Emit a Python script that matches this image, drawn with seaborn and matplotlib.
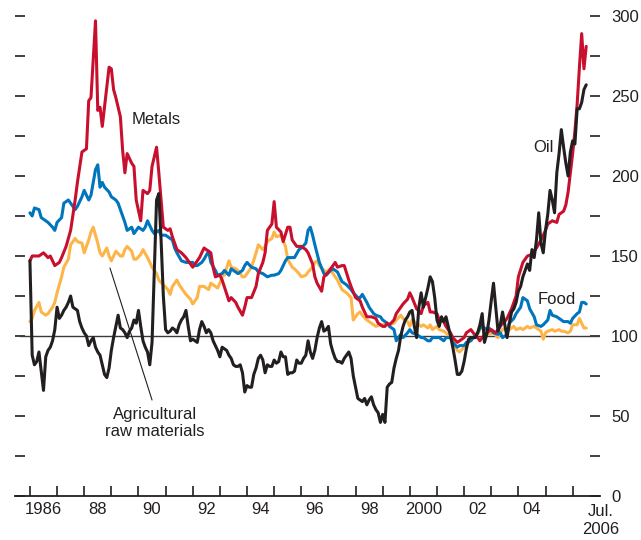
import matplotlib
matplotlib.use("Agg")
import matplotlib.pyplot as plt
import matplotlib.transforms as mtransforms
import seaborn as sns

# -----------------------
# Data (months since Jan 1986, index values)
# -----------------------

metals_m = [0, 1, 4, 6, 8, 9, 11, 13, 14, 16, 18, 20, 21, 23, 25, 26, 27, 29, 30, 31,
            32, 34, 35, 36, 37, 38, 40, 41, 42, 43, 45, 46, 47, 49, 50, 52, 53, 54, 56, 57,
            59, 61, 62, 63, 65, 67, 69, 72, 74, 75, 77, 80, 81, 82, 84, 85, 88, 89, 91, 92,
            94, 95, 96, 98, 100, 101, 103, 104, 105, 107, 108, 109, 111, 112, 114, 115, 116, 118, 120, 122,
            123, 125, 126, 127, 129, 130, 132, 134, 135, 136, 138, 139, 141, 142, 144, 146, 147, 149, 151, 153,
            154, 156, 157, 158, 159, 161, 162, 164, 165, 167, 168, 169, 171, 173, 174, 176, 177, 178, 180, 181,
            183, 184, 186, 187, 189, 190, 192, 193, 195, 196, 198, 199, 200, 202, 204, 206, 207, 209, 210, 211,
            213, 215, 216, 218, 220, 222, 224, 226, 228, 229, 231, 233, 234, 236, 237, 238, 239, 240, 241, 242,
            243, 244, 245, 246]
metals = [147, 150, 150, 152, 149, 150, 144, 146, 149, 156, 166, 185, 196, 215, 217, 247, 249, 297, 241, 243,
          231, 256, 268, 267, 254, 249, 237, 216, 202, 214, 208, 206, 185, 172, 191, 189, 191, 206, 218, 202,
          168, 166, 167, 162, 154, 152, 149, 143, 147, 149, 155, 152, 143, 137, 138, 135, 122, 124, 121, 118,
          113, 118, 124, 124, 131, 139, 146, 152, 166, 170, 184, 168, 165, 159, 168, 168, 160, 156, 156, 154,
          152, 145, 137, 133, 128, 137, 140, 144, 146, 143, 144, 144, 135, 131, 124, 122, 118, 112, 112, 111,
          108, 106, 106, 108, 107, 110, 114, 118, 120, 123, 127, 124, 117, 114, 119, 121, 115, 115, 114, 110,
          109, 106, 102, 99, 96, 97, 99, 102, 104, 102, 99, 97, 99, 102, 104, 102, 104, 108, 109, 111,
          117, 125, 137, 146, 150, 151, 155, 160, 166, 170, 172, 171, 176, 178, 182, 190, 202, 214, 228, 245,
          268, 289, 267, 281]

food_m = [0, 1, 2, 4, 5, 7, 8, 10, 11, 12, 14, 15, 17, 19, 20, 21, 23, 24, 26, 27,
          29, 30, 31, 32, 33, 35, 36, 38, 39, 41, 42, 43, 45, 46, 48, 50, 51, 52, 54, 55,
          57, 58, 60, 61, 63, 64, 65, 67, 69, 70, 72, 73, 74, 76, 77, 79, 80, 82, 83, 85,
          86, 88, 89, 91, 92, 94, 95, 96, 98, 100, 101, 103, 104, 105, 107, 108, 110, 111, 113, 114,
          116, 117, 119, 120, 122, 123, 124, 125, 126, 128, 130, 131, 133, 134, 136, 137, 138, 140, 142, 143,
          145, 146, 147, 149, 150, 152, 153, 155, 156, 158, 159, 161, 162, 164, 165, 167, 168, 169, 171, 173,
          174, 176, 177, 178, 180, 181, 183, 184, 186, 187, 189, 190, 192, 193, 195, 196, 198, 199, 200, 202,
          203, 205, 207, 208, 209, 211, 212, 214, 215, 217, 218, 220, 221, 223, 224, 226, 227, 229, 230, 231,
          233, 234, 236, 238, 239, 240, 242, 243, 244, 245, 246]
food = [177, 175, 180, 179, 174, 172, 171, 168, 166, 171, 174, 183, 185, 181, 179, 181, 187, 191, 185, 188,
        204, 207, 193, 196, 193, 190, 187, 185, 183, 175, 171, 166, 168, 164, 168, 166, 168, 172, 166, 164,
        166, 163, 163, 162, 160, 155, 152, 147, 146, 146, 146, 144, 144, 146, 148, 153, 146, 141, 138, 139,
        141, 138, 142, 140, 139, 141, 144, 146, 143, 142, 140, 139, 138, 137, 138, 138, 139, 141, 147, 149,
        149, 149, 154, 155, 158, 166, 168, 163, 157, 146, 139, 138, 141, 142, 140, 137, 134, 132, 129, 127,
        124, 124, 126, 121, 118, 114, 113, 112, 110, 108, 106, 104, 97, 101, 99, 102, 104, 102, 101, 99,
        99, 97, 97, 99, 99, 99, 97, 99, 99, 96, 93, 94, 94, 96, 97, 99, 102, 105, 106, 104,
        105, 102, 101, 102, 99, 101, 108, 111, 114, 118, 124, 122, 117, 112, 107, 106, 107, 110, 116, 113,
        112, 111, 109, 109, 108, 111, 114, 115, 121, 121, 120]

agri_m = [0, 1, 2, 4, 5, 7, 8, 10, 11, 12, 14, 15, 17, 18, 20, 21, 23, 24, 25, 26,
          27, 28, 30, 31, 32, 34, 35, 36, 37, 38, 40, 41, 42, 43, 45, 46, 47, 49, 50, 52,
          53, 54, 56, 57, 59, 61, 62, 63, 65, 66, 68, 69, 71, 72, 74, 75, 77, 79, 80, 82,
          83, 84, 85, 86, 88, 89, 91, 92, 94, 95, 96, 98, 100, 101, 103, 104, 105, 107, 108, 109,
          111, 113, 114, 116, 117, 119, 120, 122, 123, 125, 126, 127, 128, 130, 131, 133, 134, 136, 137, 138,
          140, 142, 143, 145, 146, 147, 149, 150, 152, 153, 155, 156, 158, 159, 161, 162, 164, 165, 167, 168,
          169, 171, 173, 174, 176, 177, 178, 180, 181, 183, 184, 186, 187, 189, 190, 192, 193, 195, 196, 198,
          199, 200, 202, 203, 205, 207, 208, 209, 211, 212, 214, 215, 217, 218, 220, 221, 223, 224, 226, 227,
          228, 229, 231, 232, 234, 235, 236, 238, 239, 240, 242, 243, 245, 246]
agri = [109, 111, 116, 121, 115, 113, 114, 118, 121, 127, 137, 143, 148, 157, 161, 159, 158, 152, 156, 160,
        165, 168, 158, 152, 150, 155, 150, 147, 150, 153, 150, 150, 154, 156, 153, 148, 148, 151, 154, 149,
        146, 143, 139, 135, 132, 129, 126, 131, 135, 132, 128, 126, 123, 120, 124, 131, 131, 129, 133, 131,
        130, 133, 137, 138, 147, 143, 142, 141, 137, 137, 139, 143, 152, 157, 154, 156, 159, 161, 165, 162,
        163, 156, 148, 143, 142, 139, 137, 138, 140, 143, 146, 147, 144, 141, 140, 142, 139, 135, 132, 129,
        127, 124, 110, 114, 115, 113, 110, 109, 107, 106, 107, 107, 108, 107, 108, 110, 113, 111, 109, 106,
        110, 108, 106, 107, 105, 107, 104, 106, 104, 103, 102, 99, 96, 91, 90, 93, 94, 98, 99, 101,
        104, 106, 103, 101, 102, 99, 102, 104, 105, 104, 106, 104, 105, 104, 106, 105, 106, 105, 103, 98,
        102, 103, 104, 103, 104, 103, 103, 102, 103, 107, 107, 111, 105, 105]

oil_m = list(range(0, 247))
oil = [147, 88, 82, 84, 90, 78, 66, 87, 91, 93, 97, 104, 118, 111, 113, 116, 118, 121, 125, 118,
       117, 116, 109, 105, 102, 100, 94, 97, 99, 93, 90, 88, 82, 76, 74, 80, 91, 99, 106, 113,
       105, 104, 102, 99, 103, 105, 110, 108, 116, 106, 97, 93, 90, 82, 96, 140, 185, 189, 160, 125,
       104, 102, 103, 105, 104, 102, 107, 110, 112, 116, 106, 97, 98, 97, 96, 104, 109, 106, 102, 104,
       102, 97, 94, 91, 87, 93, 92, 91, 88, 86, 82, 81, 81, 82, 77, 65, 69, 68, 68, 76,
       80, 86, 88, 85, 77, 82, 81, 81, 85, 83, 84, 90, 87, 87, 76, 77, 77, 78, 85, 83,
       83, 86, 88, 97, 90, 86, 91, 99, 105, 109, 103, 104, 106, 95, 90, 86, 84, 84, 83, 86,
       88, 90, 86, 75, 68, 61, 60, 59, 61, 57, 60, 62, 57, 54, 52, 46, 51, 46, 68, 70,
       71, 80, 86, 91, 100, 106, 110, 112, 115, 116, 106, 99, 118, 127, 118, 124, 130, 137, 134, 124,
       110, 106, 112, 109, 112, 106, 100, 93, 85, 76, 76, 78, 84, 92, 98, 99, 99, 99, 102, 107,
       114, 96, 101, 110, 122, 133, 118, 103, 107, 115, 107, 99, 108, 115, 117, 121, 128, 131, 137, 141,
       145, 141, 154, 149, 160, 177, 158, 152, 166, 176, 191, 185, 177, 202, 214, 229, 218, 208, 200, 215,
       222, 220, 242, 242, 246, 254, 257]

year_ticks = list(range(0, 241, 12))
label_pos = [6, 30, 54, 78, 102, 126, 150, 174, 198, 222]
label_txt = ["1986", "88", "90", "92", "94", "96", "98", "2000", "02", "04"]

# -----------------------
# Plot
# -----------------------

sns.set_theme(style="white")
plt.rcParams["font.family"] = ["Liberation Sans", "DejaVu Sans"]

ink = "#231f20"
fig = plt.figure(figsize=(6.41, 5.40), dpi=100)
ax = fig.add_axes([15 / 641, 44 / 540, 585 / 641, 480 / 540])

ax.axhline(100, xmin=5 / 585, xmax=584 / 585, color="#3a3a3a", lw=1.0, zorder=1)

sns.lineplot(x=agri_m, y=agri, ax=ax, color="#fdb54a", lw=2.2, estimator=None, zorder=2)
sns.lineplot(x=food_m, y=food, ax=ax, color="#0075be", lw=2.2, estimator=None, zorder=3)
sns.lineplot(x=metals_m, y=metals, ax=ax, color="#c8102e", lw=2.2, estimator=None, zorder=4)
sns.lineplot(x=oil_m, y=oil, ax=ax, color=ink, lw=2.2, estimator=None, zorder=5)

ax.set_xlim(-6.6, 252.1)
ax.set_ylim(0, 300)

for s in ["top", "left", "right"]:
    ax.spines[s].set_visible(False)
ax.spines["bottom"].set_color(ink)
ax.spines["bottom"].set_linewidth(1.3)

ax.set_xticks(year_ticks)
ax.set_xticklabels([""] * len(year_ticks))
ax.set_xticks(label_pos, minor=True)
ax.set_xticklabels(label_txt, minor=True)
ax.tick_params(axis="x", which="major", bottom=True, direction="in", length=7.5, width=1.2, color=ink)
ax.tick_params(axis="x", which="minor", bottom=True, length=0, pad=4, labelsize=12, labelcolor=ink)

ax.set_yticks(range(0, 301, 50))
ax.set_yticks(range(25, 300, 50), minor=True)
ax.tick_params(axis="y", which="both", left=True, right=True, labelleft=False, labelright=True,
               direction="in", length=7.5, width=1.2, color=ink, pad=8, labelsize=12, labelcolor=ink)

ax.set_xlabel("")
ax.set_ylabel("")

trans = mtransforms.blended_transform_factory(ax.transData, ax.transAxes)
ax.text(252.5, -0.016, "Jul.\n2006", transform=trans, ha="center", va="top", fontsize=12,
        color=ink, linespacing=1.3, clip_on=False)

ax.text(45.1, 235.6, "Metals", ha="left", va="center", fontsize=12, color=ink)
ax.text(227.3, 218, "Oil", ha="center", va="center", fontsize=12, color=ink)
ax.text(233, 122.5, "Food", ha="center", va="center", fontsize=12, color=ink)
ax.text(55.3, 45.6, "Agricultural\nraw materials", ha="center", va="center", fontsize=12,
        color=ink, linespacing=1.1)
ax.plot([35.4, 54.0], [142.5, 60.0], color=ink, lw=0.8, zorder=6)

fig.savefig("out.png", dpi=100)
